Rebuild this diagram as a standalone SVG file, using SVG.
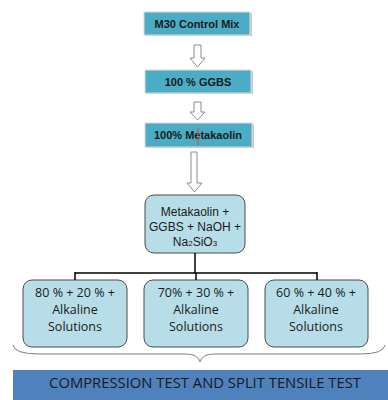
<svg xmlns="http://www.w3.org/2000/svg" width="388" height="400" viewBox="0 0 388 400">
<style>
  .top { fill: #4bacc6; stroke: #dcdcdc; stroke-width: 1; }
  .shadow { fill: #c8c8c8; }
  .ttext { font-family: "Liberation Sans", Arial, sans-serif; font-weight: bold; font-size: 11px; fill: #1a1a1a; text-anchor: middle; }
  .arrow { fill: #ffffff; stroke: #8c8c8c; stroke-width: 1; }
  .rbox { fill: #b7dee8; stroke: #4a4a4a; stroke-width: 1; }
  .rtext { font-family: "Open Sans", "Liberation Sans", sans-serif; font-size: 12.5px; fill: #1a1a1a; text-anchor: middle; }
  .mtext { font-family: "Liberation Sans", Arial, sans-serif; font-size: 12px; fill: #1a1a1a; text-anchor: middle; }
  .conn { fill: none; stroke: #000000; stroke-width: 1.5; }
  .brace { fill: none; stroke: #7f7f7f; stroke-width: 1; }
  .btext { font-family: "Open Sans", "Liberation Sans", sans-serif; font-size: 14.8px; fill: #1a1a1a; text-anchor: middle; }
</style>

<g id="n-m30">
  <rect class="shadow" x="145" y="13" width="107" height="23"/>
  <rect class="top" x="144" y="12" width="106" height="23"/>
  <text class="ttext" x="197" y="27.5">M30 Control Mix</text>
</g>
<g id="n-ggbs">
  <rect class="shadow" x="146" y="71" width="107" height="23"/>
  <rect class="top" x="145" y="70" width="106" height="23"/>
  <text class="ttext" x="198" y="85.5">100 % GGBS</text>
</g>
<g id="n-meta">
  <rect class="shadow" x="146" y="124" width="108" height="24"/>
  <rect class="top" x="145" y="123" width="107" height="24"/>
  <text class="ttext" x="198" y="139">100% Metakaolin</text>
  <line x1="198" y1="128" x2="198" y2="145" stroke="#c0504d" stroke-width="1"/>
</g>
<g id="n-mix">
  <rect class="rbox" x="145" y="195" width="100" height="58" rx="9"/>
  <text class="mtext" x="195" y="216">Metakaolin +</text>
  <text class="mtext" x="195" y="231">GGBS + NaOH +</text>
  <text class="mtext" x="195" y="246">Na<tspan font-size="8">2</tspan>SiO<tspan font-size="8">3</tspan></text>
</g>
<g id="n-80">
  <rect class="rbox" x="23" y="280" width="104" height="67" rx="9"/>
  <text class="rtext" x="75" y="297">80 % + 20 % +</text>
  <text class="rtext" x="75" y="314">Alkaline</text>
  <text class="rtext" x="75" y="331">Solutions</text>
</g>
<g id="n-70">
  <rect class="rbox" x="144" y="280" width="104" height="67" rx="9"/>
  <text class="rtext" x="196" y="297">70% + 30 % +</text>
  <text class="rtext" x="196" y="314">Alkaline</text>
  <text class="rtext" x="196" y="331">Solutions</text>
</g>
<g id="n-60">
  <rect class="rbox" x="265" y="280" width="103" height="67" rx="9"/>
  <text class="rtext" x="316" y="297">60 % + 40 % +</text>
  <text class="rtext" x="316" y="314">Alkaline</text>
  <text class="rtext" x="316" y="331">Solutions</text>
</g>
<g id="n-test">
  <rect x="13" y="370" width="375" height="30" fill="#4f81bd"/>
  <text class="btext" x="205" y="388">COMPRESSION TEST AND SPLIT TENSILE TEST</text>
</g>

<g id="connectors">
  <path class="arrow" d="M194,45 H201 V58 H205 L197.5,67 L190,58 H194 Z"/>
  <path class="arrow" d="M194,102 H201 V112 H205 L197.5,120 L190,112 H194 Z"/>
  <path class="arrow" d="M191,152 H197 V183 H202 L194.5,192 L187,183 H191 Z"/>
  <path class="conn" d="M195,253 V273 M75,273 H317 M75,272 V280 M196,273 V280 M317,272 V280"/>
  <path class="brace" d="M13,345 Q14,354 40,354 L186,354 Q198,354 200,362 Q202,354 214,354 L360,354 Q384,354 385,345"/>
</g>
</svg>
